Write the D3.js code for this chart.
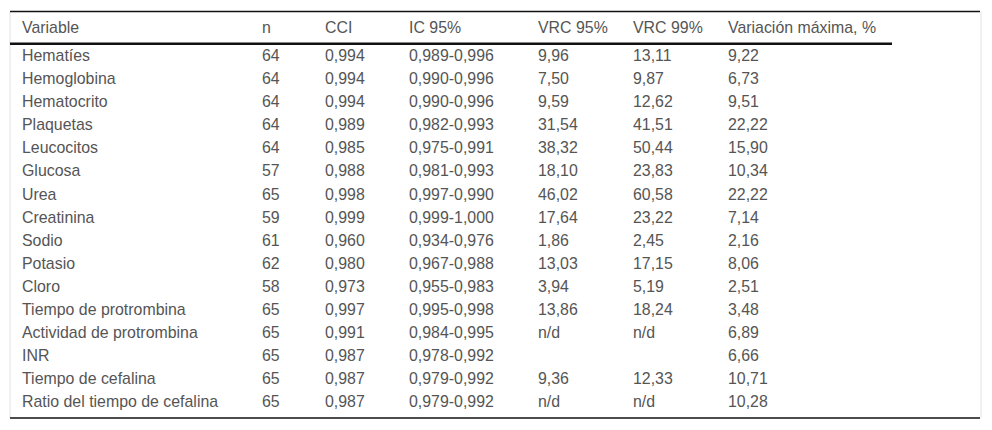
<!DOCTYPE html>
<html>
<head>
<meta charset="utf-8">
<script src="https://cdn.jsdelivr.net/npm/d3@7"></script>
<style>
  html, body { margin: 0; padding: 0; background: #fff; }
  svg { display: block; }
  text { font-family: "Liberation Sans", Arial, Helvetica, sans-serif; font-size: 15.9px; fill: #555; }
</style>
</head>
<body>
<svg id="chart" width="992" height="430"></svg>
<script>
// ---- Data ----
const headers = ["Variable", "n", "CCI", "IC 95%", "VRC 95%", "VRC 99%", "Variación máxima, %"];
const variables = ["Hematíes", "Hemoglobina", "Hematocrito", "Plaquetas", "Leucocitos", "Glucosa", "Urea", "Creatinina", "Sodio", "Potasio", "Cloro", "Tiempo de protrombina", "Actividad de protrombina", "INR", "Tiempo de cefalina", "Ratio del tiempo de cefalina"];
const nValues = ["64", "64", "64", "64", "64", "57", "65", "59", "61", "62", "58", "65", "65", "65", "65", "65"];
const cciValues = ["0,994", "0,994", "0,994", "0,989", "0,985", "0,988", "0,998", "0,999", "0,960", "0,980", "0,973", "0,997", "0,991", "0,987", "0,987", "0,987"];
const ic95Values = ["0,989-0,996", "0,990-0,996", "0,990-0,996", "0,982-0,993", "0,975-0,991", "0,981-0,993", "0,997-0,990", "0,999-1,000", "0,934-0,976", "0,967-0,988", "0,955-0,983", "0,995-0,998", "0,984-0,995", "0,978-0,992", "0,979-0,992", "0,979-0,992"];
const vrc95Values = ["9,96", "7,50", "9,59", "31,54", "38,32", "18,10", "46,02", "17,64", "1,86", "13,03", "3,94", "13,86", "n/d", "", "9,36", "n/d"];
const vrc99Values = ["13,11", "9,87", "12,62", "41,51", "50,44", "23,83", "60,58", "23,22", "2,45", "17,15", "5,19", "18,24", "n/d", "", "12,33", "n/d"];
const varMaxValues = ["9,22", "6,73", "9,51", "22,22", "15,90", "10,34", "22,22", "7,14", "2,16", "8,06", "2,51", "3,48", "6,89", "6,66", "10,71", "10,28"];

// ---- Layout ----
const colX = [22, 262, 325, 409, 538, 633, 728];
const svg = d3.select("#chart");
const left = 10, right = 980, topY = 11.5, headUnder = 43.8, bottomY = 418;

const columns = [variables, nValues, cciValues, ic95Values, vrc95Values, vrc99Values, varMaxValues];
const rows = variables.map((v, i) => columns.map(c => c[i]));

const x = d3.scaleOrdinal().domain(d3.range(headers.length)).range(colX);
const y = d3.scaleLinear().domain([0, rows.length - 1]).range([61, 407.3]);

// borders
svg.append("line").attr("x1", left).attr("x2", left).attr("y1", topY).attr("y2", bottomY)
  .attr("stroke", "#e2e2e2").attr("stroke-width", 1);
svg.append("line").attr("x1", right + 1).attr("x2", right + 1).attr("y1", topY).attr("y2", bottomY)
  .attr("stroke", "#e2e2e2").attr("stroke-width", 1);
svg.append("line").attr("x1", left).attr("x2", right).attr("y1", topY).attr("y2", topY)
  .attr("stroke", "#111").attr("stroke-width", 1.3);
svg.append("line").attr("x1", left).attr("x2", 892).attr("y1", headUnder).attr("y2", headUnder)
  .attr("stroke", "#111").attr("stroke-width", 2.5);
svg.append("line").attr("x1", left).attr("x2", right).attr("y1", bottomY).attr("y2", bottomY)
  .attr("stroke", "#111").attr("stroke-width", 1.5);

// header
svg.append("g").selectAll("text").data(headers).join("text")
  .attr("x", (d, i) => x(i)).attr("y", 33.3).text(d => d);

// body
const g = svg.append("g");
const rowG = g.selectAll("g.row").data(rows).join("g").attr("class", "row")
  .attr("transform", (d, i) => `translate(0,${y(i)})`);
rowG.selectAll("text").data(d => d).join("text")
  .attr("x", (d, i) => x(i)).attr("y", 0).text(d => d);
</script>
</body>
</html>
